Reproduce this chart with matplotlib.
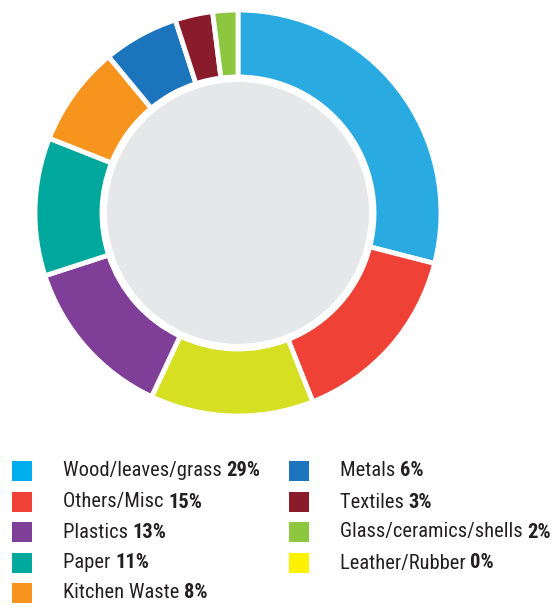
import matplotlib.pyplot as plt
from matplotlib.patches import Circle, Rectangle
from matplotlib import font_manager

# slices of the ring, clockwise from 12 o'clock
slice_values = [29, 15, 13, 13, 11, 8, 6, 3, 2]
slice_colors = ['#29abe2', '#ef4136', '#d7df23', '#7f3f98', '#00a79d',
                '#f7941d', '#1c75bc', '#8a1b2b', '#8dc63f']

# legend entries
legend_labels = ['Wood/leaves/grass', 'Others/Misc', 'Plastics', 'Paper', 'Kitchen Waste',
                 'Metals', 'Textiles', 'Glass/ceramics/shells', 'Leather/Rubber']
legend_pcts = ['29%', '15%', '13%', '11%', '8%', '6%', '3%', '2%', '0%']
legend_colors = ['#00aeef', '#ef4136', '#7f3f98', '#00a99d', '#f7941d',
                 '#1c75bc', '#8a1b2b', '#8dc63f', '#fff200']

W, H = 554, 605
fig = plt.figure(figsize=(W / 100, H / 100), dpi=100)

# donut: centre (238, 213) px, outer radius 203 px
cx, cy, half = 238, 213, 210
ax = fig.add_axes([(cx - half) / W, (H - cy - half) / H, 2 * half / W, 2 * half / H])
lim = half / 203

ax.pie(slice_values, colors=slice_colors, startangle=90, counterclock=False, radius=1,
       wedgeprops=dict(width=0.33, edgecolor='white', linewidth=3.5))
ax.add_patch(Circle((0, 0), 0.645, facecolor='#e6e7e8', edgecolor='none', zorder=5))
ax.set_xlim(-lim, lim)
ax.set_ylim(-lim, lim)
ax.set_aspect('equal')
ax.axis('off')

# legend font: look for a condensed face
names = {f.name for f in font_manager.fontManager.ttflist}
fam = ['DejaVu Sans']
stretch = 'normal'
for cand in ['Liberation Sans Narrow', 'DejaVu Sans Condensed', 'Roboto Condensed',
             'Open Sans Condensed']:
    if cand in names:
        fam = [cand, 'DejaVu Sans']
        break
else:
    stretch = 'condensed'

renderer = fig.canvas.get_renderer()
# size the text so the first legend line is as wide as in the reference (197 px)
probe = fig.text(0, 0, legend_labels[0] + ' ', fontsize=16, family=fam, fontstretch=stretch)
probe2 = fig.text(0, 0, legend_pcts[0], fontsize=16, family=fam, fontstretch=stretch,
                  fontweight='bold')
wtot = probe.get_window_extent(renderer).width + probe2.get_window_extent(renderer).width
fs = min(17, 16 * 197 / wtot)
probe.remove()
probe2.remove()

rows_y = [471, 502, 532, 563, 593]
for i, (lab, pct, col) in enumerate(zip(legend_labels, legend_pcts, legend_colors)):
    if i < 5:
        sx, tx, y = 12, 63, rows_y[i]
    else:
        sx, tx, y = 289, 340, rows_y[i - 5]
    fig.add_artist(Rectangle((sx / W, (H - y - 10) / H), 20 / W, 20 / H,
                             transform=fig.transFigure, facecolor=col, edgecolor='none'))
    t = fig.text(tx / W, (H - y) / H, lab + ' ', fontsize=fs, family=fam, fontstretch=stretch,
                 va='center', ha='left', color='#231f20')
    bb = t.get_window_extent(renderer=renderer)
    fig.text(bb.x1 / W, (H - y) / H, pct, fontsize=fs, family=fam, fontstretch=stretch,
             fontweight='bold', va='center', ha='left', color='#231f20')

fig.savefig('out.png', dpi=100)
